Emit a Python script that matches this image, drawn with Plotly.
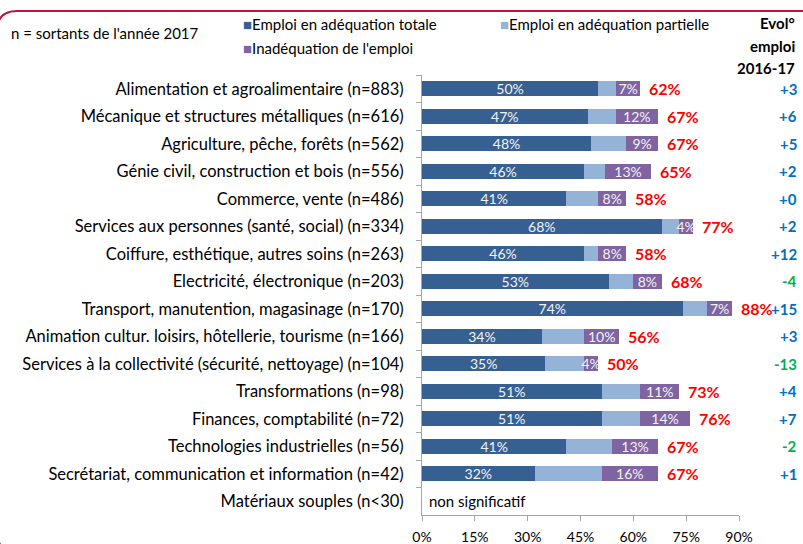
import plotly.graph_objects as go

categories = [
    "Alimentation et agroalimentaire (n=883)",
    "Mécanique et structures métalliques (n=616)",
    "Agriculture, pêche, forêts (n=562)",
    "Génie civil, construction et bois (n=556)",
    "Commerce, vente (n=486)",
    "Services aux personnes (santé, social) (n=334)",
    "Coiffure, esthétique, autres soins (n=263)",
    "Electricité, électronique (n=203)",
    "Transport, manutention, magasinage (n=170)",
    "Animation cultur. loisirs, hôtellerie, tourisme (n=166)",
    "Services à la collectivité (sécurité, nettoyage) (n=104)",
    "Transformations (n=98)",
    "Finances, comptabilité (n=72)",
    "Technologies industrielles (n=56)",
    "Secrétariat, communication et information (n=42)",
    "Matériaux souples (n<30)",
]
totale = [50, 47, 48, 46, 41, 68, 46, 53, 74, 34, 35, 51, 51, 41, 32, None]
partielle = [5, 8, 10, 6, 9, 5, 4, 7, 7, 12, 11, 11, 11, 13, 19, None]
inadequation = [7, 12, 9, 13, 8, 4, 8, 8, 7, 10, 4, 11, 14, 13, 16, None]
ensemble = [62, 67, 67, 65, 58, 77, 58, 68, 88, 56, 50, 73, 76, 67, 67, None]
evolution = [3, 6, 5, 2, 0, 2, 12, -4, 15, 3, -13, 4, 7, -2, 1, None]
x_ticks = [0, 15, 30, 45, 60, 75, 90]

series_names = ["Emploi en adéquation totale", "Emploi en adéquation partielle", "Inadéquation de l'emploi"]
colors = ["#376092", "#95B3D7", "#8064A2"]

FONT = "Lato"
W, H = 803, 544
L, R, T, B = 422, 64, 75, 29
PW, PH = W - L - R, H - T - B

def px_x(p):
    return (p - L) / PW

def px_y(p):
    return (H - B - p) / PH

fig = go.Figure()
for name, vals, col, show_text in zip(series_names, [totale, partielle, inadequation], colors, [True, False, True]):
    fig.add_trace(go.Bar(
        y=categories, x=vals, name=name, orientation="h",
        marker=dict(color=col, line=dict(width=0)),
        text=[(f"{v}%" if (v is not None and show_text) else "") for v in vals],
        textposition="inside", insidetextanchor="middle", textangle=0,
        constraintext="none", cliponaxis=False,
        textfont=dict(family=FONT, size=14, color="#f2f2f2"),
        showlegend=False, hoverinfo="skip",
    ))

ann = []
for cat, tot, ev in zip(categories, ensemble, evolution):
    if tot is None:
        ann.append(dict(x=0, y=cat, xref="x", yref="y", text="non significatif", showarrow=False,
                        xanchor="left", xshift=5, font=dict(family=FONT, size=15, color="#000")))
        continue
    ann.append(dict(x=tot, y=cat, xref="x", yref="y", text=f"<b>{tot}%</b>", showarrow=False,
                    xanchor="left", xshift=7, font=dict(family=FONT, size=16, color="#FF0000")))
    ann.append(dict(x=px_x(799), y=cat, xref="paper", yref="y", text=f"<b>{ev:+d}</b>", showarrow=False,
                    xanchor="right", font=dict(family=FONT, size=15, color="#00B050" if ev < 0 else "#0070C0")))

for txt, yy in [("Evol°", 23), ("emploi", 46), ("2016-17", 68)]:
    ann.append(dict(x=px_x(797), y=px_y(yy), xref="paper", yref="paper", text=f"<b>{txt}</b>",
                    showarrow=False, xanchor="right", yanchor="middle",
                    font=dict(family=FONT, size=15, color="#000")))

ann.append(dict(x=px_x(9), y=px_y(33), xref="paper", yref="paper", text="n = sortants de l'année 2017",
                showarrow=False, xanchor="left", yanchor="middle", font=dict(family=FONT, size=15, color="#000")))

for name, col, (lx, ly) in zip(series_names, colors, [(241, 24), (498, 24), (241, 48)]):
    ann.append(dict(x=px_x(lx), y=px_y(ly), xref="paper", yref="paper",
                    text=f"<span style='color:{col}'>■</span>{name}",
                    showarrow=False, xanchor="left", yanchor="middle",
                    font=dict(family=FONT, size=15, color="#000")))

# frame (rounded rectangle, partly off-screen)
FRAME = "#C0143C"
x0, x1, y0, y1, r = -3, 803, 11, 552, 20
fig.add_shape(type="rect", x0=px_x(x0 + r), x1=px_x(x1), y0=px_y(y0 - 1), y1=px_y(y0 + 1),
              xref="paper", yref="paper", layer="above", fillcolor=FRAME, line=dict(width=0))
fig.add_shape(type="path",
              path=(f"M {px_x(x0)},{px_y(y0 + r)} Q {px_x(x0)},{px_y(y0)} {px_x(x0 + r)},{px_y(y0)}"),
              xref="paper", yref="paper", line=dict(color=FRAME, width=2))
fig.add_shape(type="path",
              path=(f"M {px_x(x0)},{px_y(y1 - r)} Q {px_x(x0)},{px_y(y1)} {px_x(x0 + r)},{px_y(y1)}"),
              xref="paper", yref="paper", line=dict(color=FRAME, width=2))

fig.update_layout(
    width=W, height=H, margin=dict(l=L, r=R, t=T, b=B, autoexpand=False),
    barmode="stack", bargap=0.47,
    plot_bgcolor="white", paper_bgcolor="white",
    font=dict(family=FONT, color="#000"),
    annotations=ann,
    uniformtext=dict(minsize=14, mode="show"),
    xaxis=dict(range=[0, 90], tickvals=x_ticks, ticktext=[f"{v}%" for v in x_ticks],
               showgrid=False, zeroline=False, showline=True, linecolor="#A6A6A6", linewidth=1,
               ticks="outside", ticklen=5, tickcolor="#A6A6A6", ticklabelstandoff=4,
               tickfont=dict(family=FONT, size=14, color="#000")),
    yaxis=dict(categoryorder="array", categoryarray=categories, autorange="reversed",
               showgrid=False, zeroline=False, showline=True, linecolor="#A6A6A6", linewidth=1,
               ticks="outside", ticklen=5, tickcolor="#A6A6A6", tickson="boundaries",
               ticklabelstandoff=14,
               tickfont=dict(family=FONT, size=16.5, color="#000")),
)

fig.write_html("out.html", config={"displayModeBar": False},
               post_script="document.body.style.margin='0';document.body.style.overflow='hidden';")
